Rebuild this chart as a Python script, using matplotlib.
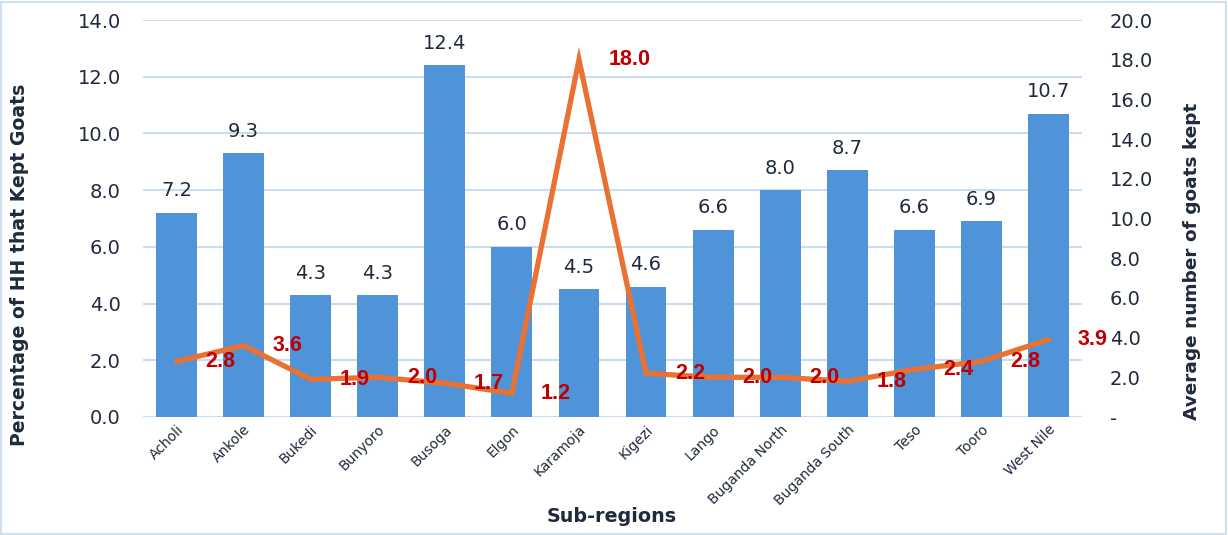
import numpy as np
import matplotlib
matplotlib.use("Agg")
import matplotlib.pyplot as plt
from matplotlib.ticker import FuncFormatter, MultipleLocator
from matplotlib.patches import Rectangle

# data
regions = ["Acholi", "Ankole", "Bukedi", "Bunyoro", "Busoga", "Elgon", "Karamoja",
           "Kigezi", "Lango", "Buganda North", "Buganda South", "Teso", "Tooro", "West Nile"]
pct_hh_goats = [7.2, 9.3, 4.3, 4.3, 12.4, 6.0, 4.5, 4.6, 6.6, 8.0, 8.7, 6.6, 6.9, 10.7]
avg_goats = [2.8, 3.6, 1.9, 2.0, 1.7, 1.2, 18.0, 2.2, 2.0, 2.0, 1.8, 2.4, 2.8, 3.9]

text_col = "#1f2a3c"
grid_col = "#c9dcf0"
bar_col = "#4f94d8"
line_col = "#e97132"
lab_col = "#c00000"

plt.rcParams['font.family'] = ['DejaVu Sans']

fig = plt.figure(figsize=(12.28, 5.35), dpi=100)
ax = fig.add_axes([143/1228, 1-417/535, (1082-143)/1228, (417-20)/535])
ax2 = ax.twinx()

x = np.arange(len(regions))
bars = ax.bar(x, pct_hh_goats, width=0.61, color=bar_col, zorder=2)
for xi, v in zip(x, pct_hh_goats):
    ax.annotate(f"{v:.1f}", (xi, v), xytext=(0, 9), textcoords="offset points",
                ha="center", va="bottom", fontsize=14, color=text_col)

ax.set_xlim(-0.5, len(regions)-0.5)
ax.set_ylim(0, 14)
ax.yaxis.set_major_locator(MultipleLocator(2))
ax.yaxis.set_major_formatter(FuncFormatter(lambda v, p: f"{v:.1f}"))
ax.grid(axis="y", color=grid_col, linewidth=1.5, zorder=0)
ax.set_axisbelow(True)
for s in ax.spines.values():
    s.set_visible(False)
for s in ax2.spines.values():
    s.set_visible(False)
ax.axhline(0, color=grid_col, linewidth=1.8, zorder=1)
ax.tick_params(axis="y", length=0, pad=16, labelsize=14, labelcolor=text_col)
ax.tick_params(axis="x", length=0, pad=4)
ax.set_xticks(x)
ax.set_xticklabels(regions, rotation=45, ha="right", rotation_mode="anchor",
                   fontsize=10, color=text_col)

ax2.plot(x, avg_goats, color=line_col, linewidth=3.8, solid_capstyle="round",
         solid_joinstyle="miter", zorder=3)
for xi, v in zip(x, avg_goats):
    ax2.annotate(f"{v:.1f}", (xi, v), xytext=(21, 0), textcoords="offset points",
                 ha="left", va="center", fontsize=15.5, fontweight="bold",
                 color=lab_col, family="Liberation Sans", zorder=4)
ax2.set_ylim(0, 20)
ax2.yaxis.set_major_locator(MultipleLocator(2))
ax2.yaxis.set_major_formatter(FuncFormatter(lambda v, p: "-" if v == 0 else f"{v:.1f}"))
ax2.tick_params(axis="y", length=0, pad=20, labelsize=14, labelcolor=text_col)

fig.text(20/1228, 1-265/535, "Percentage of HH that Kept Goats", rotation=90,
         ha="center", va="center", fontsize=13.6, fontweight="bold", color=text_col)
fig.text(1192/1228, 1-261/535, "Average number of goats kept", rotation=90,
         ha="center", va="center", fontsize=13.3, fontweight="bold", color=text_col)
fig.text(612/1228, 1-516/535, "Sub-regions", ha="center", va="center",
         fontsize=13.8, fontweight="bold", color=text_col)

fig.patches.append(Rectangle((0.001, 0.002), 0.997, 0.995, transform=fig.transFigure,
                             fill=False, edgecolor="#d0dff0", linewidth=1.5))

fig.savefig("out.png", dpi=100)
